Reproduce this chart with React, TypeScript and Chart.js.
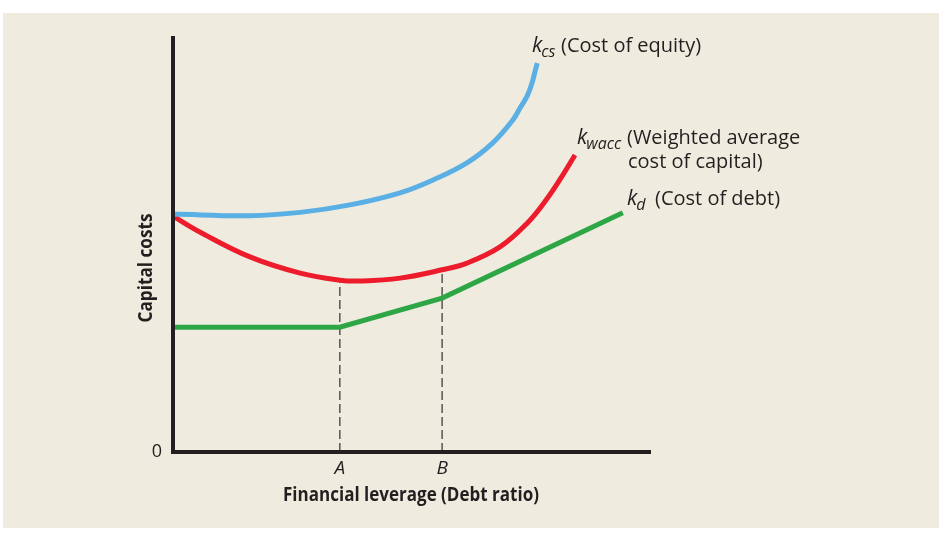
import React, { useEffect, useRef } from "react";
import { Chart, registerables } from "chart.js";

Chart.register(...registerables);

// ---- data (debt ratio on x 0..100, capital cost on y 0..100) ----
const kcsX = [0, 16.1, 26.6, 37.0, 47.5, 54.4, 61.5, 66.9, 71.1, 72.6, 74.1, 75.1, 75.7, 76.2];
const kcsY = [57.2, 56.8, 57.6, 59.4, 62.3, 65.4, 69.5, 74.3, 79.8, 82.7, 85.6, 88.7, 91.3, 93.5];

const kwaccX = [0, 5.6, 16.1, 26.6, 34.9, 39.1, 47.5, 56.3, 61.5, 68.4, 74.1, 78.2, 81.4, 84.1];
const kwaccY = [56.7, 52.9, 46.9, 43.0, 41.3, 41.1, 41.8, 43.8, 45.4, 49.3, 55.0, 60.8, 66.3, 71.4];

const kdX = [0, 34.9, 56.3, 94.1];
const kdY = [30.0, 30.0, 37.0, 57.5];

const leverageTickLabels = ["A", "B"];
const leverageTickValues = [34.9, 56.3];
const dashTopValues = [41.3, 43.6];

const costTickLabels = ["0"];
const costTickValues = [0];

const xTitle = "Financial leverage (Debt ratio)";
const yTitle = "Capital costs";

const toPts = (xs: number[], ys: number[]) => xs.map((x, i) => ({ x, y: ys[i] }));

const INK = "#231f20";
const FONT = "'Open Sans', 'Noto Sans', sans-serif";

const decorPlugin = {
  id: "decor",
  beforeDraw(chart: any) {
    const ctx = chart.ctx;
    ctx.save();
    ctx.fillStyle = "#ffffff";
    ctx.fillRect(0, 0, chart.width, chart.height);
    ctx.fillStyle = "#efecdf";
    ctx.fillRect(3, 13, 936, 515);
    ctx.restore();
  },
  afterDatasetsDraw(chart: any) {
    const ctx = chart.ctx;
    const { left, right, top, bottom } = chart.chartArea;
    const xs = chart.scales.x;
    const ys = chart.scales.y;
    ctx.save();
    // axes
    ctx.strokeStyle = INK;
    ctx.lineWidth = 4;
    ctx.lineCap = "butt";
    ctx.beginPath();
    ctx.moveTo(left, top);
    ctx.lineTo(left, bottom + 2);
    ctx.moveTo(left - 2, bottom);
    ctx.lineTo(right, bottom);
    ctx.stroke();

    ctx.fillStyle = INK;
    // y tick labels
    ctx.font = `18px ${FONT}`;
    ctx.textAlign = "center";
    ctx.textBaseline = "middle";
    costTickLabels.forEach((t, i) => {
      ctx.fillText(t, 157, ys.getPixelForValue(costTickValues[i]));
    });
    // x tick labels
    ctx.font = `italic 19px ${FONT}`;
    leverageTickLabels.forEach((t, i) => {
      ctx.fillText(t, xs.getPixelForValue(leverageTickValues[i]), 469);
    });
    // axis titles
    ctx.font = `bold 19px ${FONT}`;
    ctx.textBaseline = "alphabetic";
    ctx.fillText(xTitle, 411, 501, 256);
    ctx.save();
    ctx.translate(152, 268);
    ctx.rotate(-Math.PI / 2);
    ctx.fillText(yTitle, 0, 0, 109);
    ctx.restore();

    // curve labels
    ctx.textAlign = "left";
    const label = (kx: number, by: number, sub: string, text: string, tx: number) => {
      ctx.font = `italic 21px ${FONT}`;
      ctx.fillText("k", kx, by);
      const kw = ctx.measureText("k").width;
      ctx.font = `italic 16px ${FONT}`;
      ctx.fillText(sub, kx + kw - 1, by + 5);
      ctx.font = `20px ${FONT}`;
      ctx.fillText(text, tx, by);
    };
    label(532, 52, "cs", "(Cost of equity)", 561);
    label(577, 144, "wacc", "(Weighted average", 627);
    ctx.font = `20px ${FONT}`;
    ctx.fillText("cost of capital)", 628, 168);
    label(627, 205, "d", "(Cost of debt)", 655);
    ctx.restore();
  },
};

export default function App() {
  const ref = useRef<HTMLCanvasElement | null>(null);
  useEffect(() => {
    document.body.style.margin = "0";
    const dashSets = leverageTickValues.map((v, i) => ({
      data: [
        { x: v, y: 0 },
        { x: v, y: dashTopValues[i] },
      ],
      borderColor: "#555555",
      borderWidth: 1.5,
      borderDash: [9, 4],
      pointRadius: 0,
      tension: 0,
      clip: false as any,
    }));
    const chart = new Chart(ref.current as HTMLCanvasElement, {
      type: "line",
      data: {
        datasets: [
          {
            label: "kcs",
            data: toPts(kcsX, kcsY),
            borderColor: "#5aafe4",
            borderWidth: 5,
            pointRadius: 0,
            tension: 0.4,
            borderCapStyle: "butt",
            clip: false as any,
          },
          {
            label: "kwacc",
            data: toPts(kwaccX, kwaccY),
            borderColor: "#ec1c2d",
            borderWidth: 5,
            pointRadius: 0,
            tension: 0.4,
            borderCapStyle: "butt",
            clip: false as any,
          },
          {
            label: "kd",
            data: toPts(kdX, kdY),
            borderColor: "#2ea646",
            borderWidth: 5,
            pointRadius: 0,
            tension: 0,
            borderCapStyle: "butt",
            borderJoinStyle: "miter",
            clip: false as any,
          },
          ...dashSets,
        ] as any,
      },
      options: {
        animation: false,
        responsive: true,
        maintainAspectRatio: false,
        layout: { padding: { left: 173, top: 36, right: 292, bottom: 86 } },
        plugins: { legend: { display: false }, tooltip: { enabled: false } },
        scales: {
          x: { type: "linear", min: 0, max: 100, display: false },
          y: { type: "linear", min: 0, max: 100, display: false },
        },
      },
      plugins: [decorPlugin],
    });
    return () => chart.destroy();
  }, []);
  return (
    <div style={{ width: 943, height: 538, position: "relative" }}>
      <canvas ref={ref} />
    </div>
  );
}
